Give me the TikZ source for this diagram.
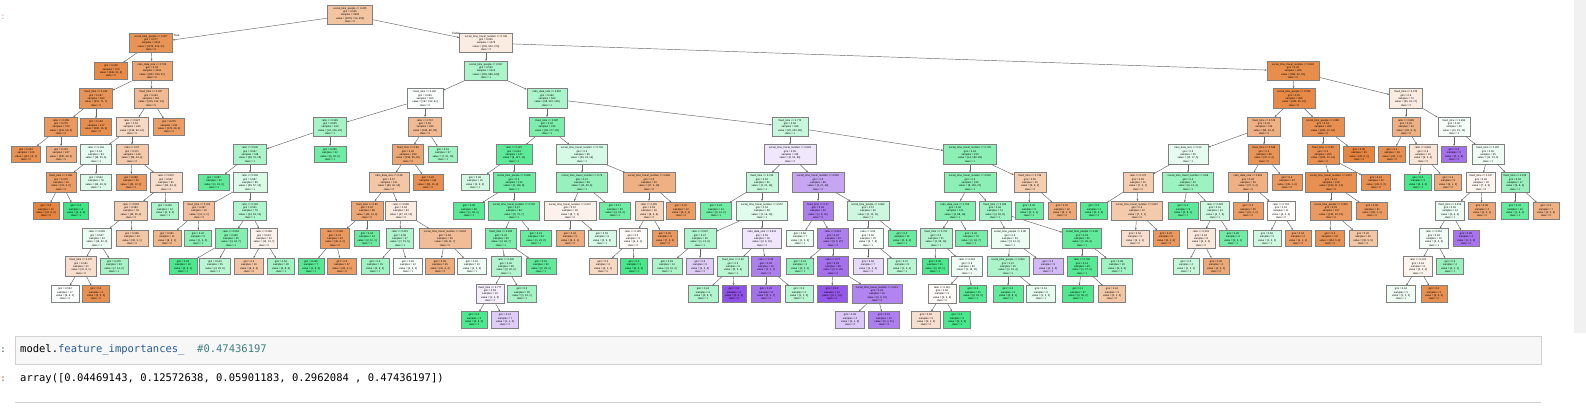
\documentclass[tikz,border=0pt]{standalone}
\usepackage{fontspec}
\usetikzlibrary{arrows.meta}
\newfontfamily\nodefont{Liberation Sans}
\newfontfamily\codefont{DejaVu Sans Mono}
\definecolor{O}{RGB}{229,129,57}
\definecolor{G}{RGB}{57,229,129}
\definecolor{P}{RGB}{129,57,229}
\definecolor{inprompt}{RGB}{48,63,159}
\definecolor{outprompt}{RGB}{216,67,21}
\definecolor{codeprop}{RGB}{40,90,150}
\definecolor{codecomment}{RGB}{64,128,128}
\newcommand\Iq[5]{#1\\gini = #2\\samples = #3\\value = [#4]\\class = #5}
\newcommand\Lq[4]{gini = #1\\samples = #2\\value = [#3]\\class = #4}
\newcommand\Ni[7]{\node[inn, minimum width=#5, fill=#6] (#1) at (#3,#4) {#7}; \draw[edg] (#2) -- (#1);}
\newcommand\Nl[7]{\node[lf, minimum width=#5, fill=#6] (#1) at (#3,#4) {#7}; \draw[edg] (#2) -- (#1);}
\tikzset{
  tbox/.style={rectangle, draw=black!50, line width=0.55pt, inner xsep=0.4pt, inner ysep=0pt, align=center, font=\nodefont\fontsize{2.6}{3.3}\selectfont},
  inn/.style={tbox, minimum height=19.5},
  lf/.style={tbox, minimum height=16.5},
  edg/.style={draw=black!60, line width=0.45pt, -{Stealth[length=2.2pt,width=1.8pt]}},
  tf/.style={font=\nodefont\fontsize{3}{3.5}\selectfont, inner sep=0pt}
}
\begin{document}
\begin{tikzpicture}[x=1pt,y=-1pt]
\useasboundingbox (0,0) rectangle (1586,407);
\fill[white] (0,0) rectangle (1586,407);
\fill[black!5.5] (1574,0) rectangle (1586,333);
\node[font=\nodefont\fontsize{8}{8}\selectfont, text=outprompt, inner sep=0pt] (op1) at (3,17) {:};
% root
\node[inn, minimum width=45, fill=O!47] (r) at (350,15) {\Iq{social\_time\_people <= 0.225}{0.535}{2992}{1878, 714, 400}{0}};
% left subtree
\Ni{a}{r}{151}{43}{43}{O!85}{\Iq{social\_time\_people <= 0.027}{0.277}{1514}{1273, 214, 27}{0}}
\node[tf] (tlab) at (176.5,35.5) {True};
\Nl{a1}{a}{111}{71}{33}{O!92}{\Lq{0.108}{473}{446, 21, 6}{0}}
\Ni{a2}{a}{152}{71}{40}{O!72}{\Iq{ratio\_data\_size <= 0.709}{0.34}{1041}{827, 193, 21}{0}}
\Ni{a21}{a2}{96}{98.5}{33}{O!85}{\Iq{fixed\_time <= 0.445}{0.237}{590}{512, 71, 7}{0}}
\Ni{a211}{a21}{61}{127}{33}{O!82}{\Iq{ratio <= 0.358}{0.275}{373}{312, 56, 5}{0}}
\Nl{a2111}{a211}{26}{154.5}{29}{O!87}{\Lq{0.204}{126}{112, 13, 1}{0}}
\Nl{a2112}{a211}{61}{154.5}{30}{O!65}{\Lq{0.314}{247}{200, 43, 4}{0}}
\Nl{a212}{a21}{96}{127}{31}{O!90}{\Lq{0.143}{217}{200, 15, 2}{0}}
\Ni{a22}{a2}{151}{98.5}{34}{O!55}{\Iq{fixed\_time <= 0.927}{0.444}{451}{315, 122, 14}{0}}
\Ni{a221}{a22}{132}{127}{32}{O!30}{\Iq{ratio <= 0.527}{0.53}{240}{136, 94, 10}{0}}
\Ni{a2211}{a221}{96}{154.5}{31}{G!12}{\Iq{ratio <= 0.146}{0.54}{94}{38, 50, 6}{1}}
\Ni{a22111}{a2211}{61}{182.5}{30}{O!78}{\Iq{fixed\_time <= 0.981}{0.375}{16}{12, 4, 0}{0}}
\Nl{a221111}{a22111}{46}{211}{26}{O!97}{\Lq{0.0}{12}{12, 0, 0}{0}}
\Nl{a221112}{a22111}{76}{211}{25}{G!98}{\Lq{0.0}{4}{0, 4, 0}{1}}
\Nl{a22112}{a2211}{96}{182.5}{31}{G!17}{\Lq{0.554}{78}{26, 46, 6}{1}}
\Ni{a2212}{a221}{132}{154.5}{32}{O!42}{\Iq{ratio <= 0.67}{0.471}{146}{98, 44, 4}{0}}
\Nl{a22121}{a2212}{131}{182.5}{30}{O!80}{\Lq{0.298}{55}{45, 10, 0}{0}}
\Ni{a22122}{a2212}{166}{182.5}{32}{O!26}{\Iq{ratio <= 0.907}{0.507}{91}{53, 34, 4}{0}}
\Ni{a221221}{a22122}{131}{211}{33}{O!38}{\Iq{ratio <= 0.863}{0.483}{78}{49, 25, 4}{0}}
\Ni{a2212211}{a221221}{97}{238.5}{29}{G!10}{\Iq{ratio <= 0.695}{0.547}{44}{19, 22, 3}{1}}
\Ni{a22122111}{a2212211}{81}{266.5}{31}{O!25}{\Iq{fixed\_time <= 0.977}{0.531}{21}{12, 8, 1}{0}}
\Nl{a221221111}{a22122111}{65}{294}{28}{G!2}{\Lq{0.522}{17}{8, 8, 1}{0}}
\Nl{a221221112}{a22122111}{96}{294}{27}{O!88}{\Lq{0.0}{4}{4, 0, 0}{0}}
\Nl{a22122112}{a2212211}{114}{266.5}{28}{G!45}{\Lq{0.476}{23}{7, 14, 2}{1}}
\Nl{a2212212}{a221221}{132}{238.5}{32}{O!45}{\Lq{0.208}{34}{30, 3, 1}{0}}
\Nl{a221222}{a22122}{165}{211}{27}{G!42}{\Lq{0.426}{13}{4, 9, 0}{1}}
\Nl{a222}{a22}{169}{127}{31}{O!78}{\Lq{0.275}{211}{179, 28, 4}{0}}
% right subtree
\Ni{b}{r}{486}{43}{53}{O!15}{\Iq{social\_time\_travel\_number <= 0.738}{0.625}{1478}{605, 500, 373}{0}}
\node[tf] (flab) at (456,33) {False};
\Ni{b1}{b}{486}{71}{43}{G!42}{\Iq{social\_time\_people <= 0.917}{0.553}{1013}{255, 589, 169}{1}}
\Ni{b11}{b1}{425}{98.5}{36}{G!2}{\Iq{fixed\_time <= 0.487}{0.636}{450}{197, 192, 61}{0}}
\Ni{b111}{b11}{330}{127}{33}{G!45}{\Iq{ratio <= 0.381}{0.525}{160}{32, 106, 22}{1}}
\Ni{b1111}{b111}{250}{154.5}{33}{G!42}{\Iq{ratio <= 0.035}{0.547}{118}{26, 76, 16}{1}}
\Nl{b11111}{b1111}{214}{182.5}{31}{G!80}{\Lq{0.287}{23}{1, 19, 3}{1}}
\Ni{b11112}{b1111}{250}{182.5}{34}{G!18}{\Iq{ratio <= 0.305}{0.587}{95}{25, 57, 13}{1}}
\Ni{b111121}{b11112}{199}{211}{31}{O!50}{\Iq{fixed\_time <= 0.403}{0.497}{16}{11, 4, 1}{0}}
\Nl{b1111211}{b111121}{167}{238.5}{28}{O!58}{\Lq{0.391}{11}{8, 2, 1}{0}}
\Nl{b1111212}{b111121}{198}{238.5}{27}{G!58}{\Lq{0.32}{5}{1, 4, 0}{1}}
\Ni{b111122}{b11112}{250}{211}{33}{G!40}{\Iq{ratio <= 0.193}{0.551}{79}{14, 53, 12}{1}}
\Ni{b1111221}{b111122}{231}{238.5}{32}{G!62}{\Iq{ratio <= 0.063}{0.455}{45}{4, 34, 7}{1}}
\Nl{b11112211}{b1111221}{183}{266.5}{28}{G!90}{\Lq{0.18}{10}{0, 9, 1}{1}}
\Nl{b11112212}{b1111221}{215}{266.5}{31}{G!35}{\Lq{0.516}{35}{4, 25, 6}{1}}
\Ni{b1111222}{b111122}{264}{238.5}{27}{O!10}{\Iq{ratio <= 0.286}{0.614}{34}{14, 13, 7}{0}}
\Nl{b11112221}{b1111222}{249}{266.5}{29}{O!47}{\Lq{0.5}{16}{9, 5, 2}{0}}
\Nl{b11112222}{b1111222}{281}{266.5}{27}{G!48}{\Lq{0.54}{18}{5, 8, 5}{1}}
\Nl{b1112}{b111}{330}{154.5}{32}{G!72}{\Lq{0.355}{42}{6, 30, 6}{1}}
\Ni{b112}{b11}{425}{127}{33}{O!55}{\Iq{ratio <= 0.767}{0.55}{290}{165, 86, 39}{0}}
\Ni{b1121}{b112}{408}{154.5}{31}{O!70}{\Iq{fixed\_time <= 0.99}{0.45}{233}{158, 55, 20}{0}}
\Ni{b11211}{b1121}{389}{182.5}{40}{O!45}{\Iq{ratio\_data\_size <= 0.38}{0.57}{121}{65, 40, 16}{0}}
\Ni{b112111}{b11211}{367}{211}{32}{O!70}{\Iq{fixed\_time <= 0.85}{0.42}{58}{40, 14, 4}{0}}
\Ni{b1121111}{b112111}{335}{238.5}{29}{O!82}{\Iq{ratio <= 0.283}{0.31}{44}{36, 6, 2}{0}}
\Nl{b11211111}{b1121111}{311}{266.5}{26}{G!85}{\Lq{0.245}{7}{1, 6, 0}{1}}
\Nl{b11211112}{b1121111}{342}{266.5}{29}{O!78}{\Lq{0.2}{37}{33, 3, 1}{0}}
\Nl{b1121112}{b112111}{367}{238.5}{25}{G!75}{\Lq{0.34}{14}{2, 11, 1}{1}}
\Ni{b112112}{b11211}{401}{211}{31}{O!15}{\Iq{ratio <= 0.585}{0.64}{63}{27, 24, 12}{0}}
\Ni{b1121121}{b112112}{400}{238.5}{27}{G!40}{\Iq{ratio <= 0.415}{0.58}{27}{7, 15, 5}{1}}
\Nl{b11211211}{b1121121}{375}{266.5}{28}{G!48}{\Lq{0.5}{15}{3, 9, 3}{1}}
\Nl{b11211212}{b1121121}{408}{266.5}{29}{G!3}{\Lq{0.65}{12}{4, 6, 2}{1}}
\Ni{b1121122}{b112112}{445}{238.5}{52}{O!52}{\Iq{social\_time\_travel\_number <= 0.804}{0.58}{36}{18, 11, 7}{0}}
\Nl{b11211221}{b1121122}{440}{266.5}{29}{O!65}{\Lq{0.48}{26}{16, 6, 4}{0}}
\Nl{b11211222}{b1121122}{472}{266.5}{29}{G!8}{\Lq{0.62}{10}{2, 5, 3}{1}}
\Nl{b11212}{b1121}{428}{182.5}{30}{O!88}{\Lq{0.26}{112}{93, 15, 4}{0}}
\Nl{b1122}{b112}{443}{154.5}{29}{G!48}{\Lq{0.51}{57}{7, 31, 19}{1}}
\Ni{b12}{b1}{547}{98.5}{40}{G!42}{\Iq{ratio\_data\_size <= 0.387}{0.462}{563}{58, 397, 108}{1}}
\Ni{b121}{b12}{547}{127}{35}{G!65}{\Iq{fixed\_time <= 0.687}{0.42}{235}{38, 177, 20}{1}}
\Ni{b1211}{b121}{514}{154.5}{36}{G!82}{\Iq{ratio <= 0.187}{0.244}{147}{9, 127, 11}{1}}
\Nl{b12111}{b1211}{475}{182.5}{28}{G!22}{\Lq{0.48}{15}{3, 9, 3}{1}}
\Ni{b12112}{b1211}{514}{182.5}{42}{G!72}{\Iq{social\_time\_people <= 0.948}{0.2}{132}{6, 118, 8}{1}}
\Nl{b121121}{b12112}{469}{211}{31}{G!85}{\Lq{0.08}{48}{1, 46, 1}{1}}
\Ni{b121122}{b12112}{514}{211}{51}{G!70}{\Iq{social\_time\_travel\_number <= 0.792}{0.27}{84}{5, 72, 7}{1}}
\Ni{b1211221}{b121122}{501}{238.5}{31}{G!65}{\Iq{fixed\_time <= 0.825}{0.32}{60}{4, 49, 7}{1}}
\Ni{b12112211}{b1211221}{506}{266.5}{30}{G!38}{\Iq{ratio <= 0.435}{0.45}{28}{2, 20, 6}{1}}
\Ni{b121122111}{b12112211}{490}{294}{28}{P!8}{\Iq{fixed\_time <= 0.777}{0.58}{10}{1, 4, 5}{2}}
\Nl{b1211221111}{b121122111}{474}{320}{26}{G!90}{\Lq{0.0}{3}{0, 3, 0}{1}}
\Nl{b1211221112}{b121122111}{505}{320}{27}{P!25}{\Lq{0.41}{7}{1, 1, 5}{2}}
\Nl{b121122112}{b12112211}{522}{294}{29}{G!45}{\Lq{0.2}{18}{1, 16, 1}{1}}
\Nl{b12112212}{b1211221}{541}{266.5}{30}{G!80}{\Lq{0.15}{32}{2, 29, 1}{1}}
\Nl{b1211222}{b121122}{536}{238.5}{31}{G!77}{\Lq{0.16}{24}{1, 23, 0}{1}}
\Ni{b1212}{b121}{582}{154.5}{51}{G!20}{\Iq{social\_time\_travel\_number <= 0.795}{0.6}{88}{29, 43, 16}{1}}
\Ni{b12121}{b1212}{582}{182.5}{51}{G!52}{\Iq{social\_time\_travel\_number <= 0.78}{0.47}{58}{12, 40, 6}{1}}
\Ni{b121211}{b12121}{570}{211}{52}{O!10}{\Iq{social\_time\_travel\_number <= 0.637}{0.57}{18}{8, 7, 3}{0}}
\Nl{b1212111}{b121211}{570}{238.5}{28}{O!65}{\Lq{0.44}{9}{6, 2, 1}{0}}
\Nl{b1212112}{b121211}{602}{238.5}{28}{G!20}{\Lq{0.59}{9}{2, 5, 2}{1}}
\Nl{b121212}{b12121}{615}{211}{31}{G!72}{\Lq{0.17}{40}{4, 33, 3}{1}}
\Ni{b12122}{b1212}{649}{182.5}{52}{O!62}{\Iq{social\_time\_travel\_number <= 0.868}{0.5}{30}{17, 3, 10}{0}}
\Ni{b121221}{b12122}{649}{211}{28}{O!32}{\Iq{ratio <= 0.455}{0.59}{18}{9, 3, 6}{0}}
\Ni{b1212211}{b121221}{633}{238.5}{28}{O!4}{\Iq{ratio <= 0.185}{0.5}{9}{4, 4, 1}{0}}
\Nl{b12122111}{b1212211}{603}{266.5}{28}{O!30}{\Lq{0.5}{6}{4, 1, 1}{0}}
\Nl{b12122112}{b1212211}{634}{266.5}{27}{G!92}{\Lq{0.0}{3}{0, 3, 0}{1}}
\Nl{b1212212}{b121221}{665}{238.5}{25}{O!80}{\Lq{0.35}{9}{7, 0, 2}{0}}
\Nl{b121222}{b12122}{681}{211}{29}{O!78}{\Lq{0.32}{12}{8, 0, 4}{0}}
\Ni{b122}{b12}{790}{127}{36}{G!28}{\Iq{fixed\_time <= 0.773}{0.56}{328}{20, 220, 88}{1}}
\Ni{b1221}{b122}{790}{154.5}{52}{P!12}{\Iq{social\_time\_travel\_number <= 0.649}{0.55}{118}{6, 52, 60}{2}}
\Ni{b12211}{b1221}{762}{182.5}{32}{G!28}{\Iq{fixed\_time <= 0.315}{0.52}{52}{3, 31, 18}{1}}
\Nl{b122111}{b12211}{716}{211}{31}{G!72}{\Lq{0.24}{14}{0, 12, 2}{1}}
\Ni{b122112}{b12211}{762}{211}{51}{G!15}{\Iq{social\_time\_travel\_number <= 0.557}{0.53}{38}{3, 19, 16}{1}}
\Ni{b1221121}{b122112}{700}{238.5}{32}{G!40}{\Iq{ratio <= 0.597}{0.47}{20}{1, 13, 6}{1}}
\Nl{b12211211}{b1221121}{667}{266.5}{30}{G!42}{\Lq{0.43}{14}{0, 10, 4}{1}}
\Nl{b12211212}{b1221121}{700}{266.5}{27}{P!25}{\Lq{0.5}{6}{1, 2, 3}{2}}
\Ni{b1221122}{b122112}{762}{238.5}{39}{P!12}{\Iq{ratio\_data\_size <= 0.531}{0.55}{18}{2, 6, 10}{2}}
\Ni{b12211221}{b1221122}{733}{266.5}{31}{G!35}{\Iq{fixed\_time <= 0.58}{0.5}{8}{0, 5, 3}{1}}
\Nl{b122112211}{b12211221}{703}{294}{30}{G!40}{\Lq{0.44}{6}{0, 4, 2}{1}}
\Nl{b122112212}{b12211221}{734}{294}{24}{P!88}{\Lq{0.0}{2}{0, 0, 2}{2}}
\Ni{b12211222}{b1221122}{766}{266.5}{29}{P!65}{\Iq{ratio <= 0.39}{0.39}{10}{2, 1, 7}{2}}
\Nl{b122112221}{b12211222}{766}{294}{29}{P!72}{\Lq{0.22}{8}{0, 1, 7}{2}}
\Nl{b122112222}{b12211222}{799}{294}{28}{G!35}{\Lq{0.5}{2}{1, 1, 0}{1}}
\Ni{b12212}{b1221}{818}{182.5}{52}{P!45}{\Iq{social\_time\_travel\_number <= 0.662}{0.5}{66}{3, 21, 42}{2}}
\Ni{b122121}{b12212}{818}{211}{30}{P!65}{\Iq{fixed\_time <= 0.27}{0.36}{40}{1, 8, 31}{2}}
\Nl{b1221211}{b122121}{800}{238.5}{27}{G!10}{\Lq{0.56}{7}{1, 3, 3}{1}}
\Ni{b1221212}{b122121}{833}{238.5}{31}{P!65}{\Iq{ratio <= 0.412}{0.32}{33}{0, 6, 27}{2}}
\Nl{b12212121}{b1221212}{800}{266.5}{27}{G!55}{\Lq{0.44}{3}{0, 2, 1}{1}}
\Ni{b12212122}{b1221212}{833}{266.5}{31}{P!72}{\Iq{ratio <= 0.77}{0.25}{30}{0, 4, 26}{2}}
\Nl{b122121221}{b12212122}{832}{294}{30}{P!85}{\Lq{0.13}{14}{0, 1, 13}{2}}
\Ni{b122121222}{b12212122}{877}{294}{50}{P!62}{\Iq{social\_time\_travel\_number <= 0.613}{0.33}{16}{0, 3, 13}{2}}
\Nl{b1221212221}{b122121222}{850}{320}{29}{P!28}{\Lq{0.38}{4}{0, 1, 3}{2}}
\Nl{b1221212222}{b122121222}{884}{320}{31}{P!65}{\Lq{0.15}{12}{0, 1, 11}{2}}
\Ni{b122122}{b12212}{868}{211}{42}{G!25}{\Iq{social\_time\_people <= 0.982}{0.57}{26}{2, 13, 11}{1}}
\Ni{b1221221}{b122122}{868}{238.5}{30}{G!5}{\Iq{ratio <= 0.63}{0.55}{15}{2, 7, 6}{1}}
\Nl{b12212211}{b1221221}{868}{266.5}{30}{P!18}{\Lq{0.56}{7}{1, 2, 4}{2}}
\Nl{b12212212}{b1221221}{902}{266.5}{29}{G!35}{\Lq{0.47}{8}{1, 5, 2}{1}}
\Nl{b1221222}{b122122}{902}{238.5}{28}{G!75}{\Lq{0.3}{11}{0, 9, 2}{1}}
\Ni{b1222}{b122}{970}{154.5}{53}{G!58}{\Iq{social\_time\_travel\_number <= 0.705}{0.43}{210}{14, 168, 28}{1}}
\Ni{b12221}{b1222}{970}{182.5}{52}{G!58}{\Iq{social\_time\_travel\_number <= 0.692}{0.4}{195}{8, 160, 27}{1}}
\Ni{b122211}{b12221}{955}{211}{40}{G!62}{\Iq{ratio\_data\_size <= 0.765}{0.36}{121}{4, 98, 19}{1}}
\Ni{b1222111}{b122211}{936}{238.5}{32}{G!38}{\Iq{fixed\_time <= 0.751}{0.5}{51}{3, 36, 12}{1}}
\Nl{b12221111}{b1222111}{935}{266.5}{26}{G!90}{\Lq{0.09}{21}{0, 20, 1}{1}}
\Ni{b12221112}{b1222111}{967}{266.5}{31}{G!8}{\Iq{ratio <= 0.363}{0.6}{30}{3, 16, 11}{1}}
\Ni{b122211121}{b12221112}{942}{294}{28}{O!3}{\Iq{ratio <= 0.114}{0.66}{9}{3, 3, 3}{0}}
\Nl{b1222111211}{b122211121}{926}{320}{29}{O!25}{\Lq{0.62}{5}{2, 1, 2}{0}}
\Nl{b1222111212}{b122211121}{957}{320}{27}{G!92}{\Lq{0.0}{2}{0, 2, 0}{1}}
\Nl{b122211122}{b12221112}{973}{294}{27}{G!85}{\Lq{0.3}{21}{0, 18, 3}{1}}
\Nl{b1222112}{b122211}{971}{238.5}{32}{G!68}{\Lq{0.26}{70}{1, 62, 7}{1}}
\Ni{b122212}{b12221}{995}{211}{32}{G!48}{\Iq{fixed\_time <= 0.905}{0.46}{74}{4, 62, 8}{1}}
\Ni{b1222121}{b122212}{1010}{238.5}{38}{G!9}{\Iq{social\_time\_people <= 0.98}{0.6}{24}{3, 12, 9}{1}}
\Ni{b12221211}{b1222121}{1008}{266.5}{42}{G!42}{\Iq{social\_time\_people <= 0.963}{0.47}{15}{1, 10, 4}{1}}
\Nl{b122212111}{b12221211}{1008}{294}{30}{G!80}{\Lq{0.2}{9}{0, 8, 1}{1}}
\Nl{b122212112}{b12221211}{1041}{294}{29}{G!12}{\Lq{0.61}{6}{1, 2, 3}{1}}
\Nl{b12221212}{b1222121}{1048}{266.5}{30}{P!35}{\Lq{0.5}{9}{2, 2, 5}{2}}
\Ni{b1222122}{b122212}{1082}{238.5}{39}{G!80}{\Iq{social\_time\_people <= 0.99}{0.18}{50}{1, 45, 4}{1}}
\Ni{b12221221}{b1222122}{1082}{266.5}{30}{G!85}{\Iq{ratio <= 0.706}{0.14}{40}{1, 37, 2}{1}}
\Nl{b122212211}{b12221221}{1078}{294}{31}{G!88}{\Lq{0.1}{37}{0, 35, 2}{1}}
\Nl{b122212212}{b12221221}{1112}{294}{27}{O!45}{\Lq{0.44}{3}{2, 1, 0}{0}}
\Nl{b12221222}{b1222122}{1117}{266.5}{31}{G!48}{\Lq{0.48}{10}{0, 6, 4}{1}}
\Ni{b12222}{b1222}{1030}{182.5}{32}{O!40}{\Iq{fixed\_time <= 0.729}{0.55}{15}{8, 5, 2}{0}}
\Nl{b122221}{b12222}{1029}{211}{28}{G!72}{\Lq{0.32}{5}{0, 4, 1}{1}}
\Nl{b122222}{b12222}{1062}{211}{28}{O!68}{\Lq{0.32}{10}{8, 1, 1}{0}}
% far right subtree
\Ni{b2}{b}{1293}{71}{52}{O!90}{\Iq{social\_time\_travel\_number <= 0.843}{0.29}{465}{390, 42, 33}{0}}
\Ni{b21}{b2}{1294}{98.5}{42}{O!93}{\Iq{social\_time\_people <= 0.976}{0.25}{395}{345, 35, 15}{0}}
\Ni{b211}{b21}{1264}{127}{33}{O!62}{\Iq{fixed\_time <= 0.576}{0.45}{115}{83, 23, 9}{0}}
\Ni{b2111}{b211}{1188}{154.5}{40}{G!12}{\Iq{ratio\_data\_size <= 0.23}{0.6}{35}{13, 17, 5}{1}}
\Ni{b21111}{b2111}{1138}{182.5}{30}{O!40}{\Iq{ratio <= 0.179}{0.55}{12}{7, 4, 1}{0}}
\Nl{b211111}{b21111}{1094}{211}{27}{G!85}{\Lq{0.0}{2}{0, 2, 0}{1}}
\Ni{b211112}{b21111}{1137}{211}{51}{O!42}{\Iq{social\_time\_travel\_number <= 0.887}{0.5}{10}{7, 2, 1}{0}}
\Nl{b2111121}{b211112}{1135}{238.5}{28}{O!25}{\Lq{0.56}{5}{3, 1, 1}{0}}
\Nl{b2111122}{b211112}{1166}{238.5}{26}{O!82}{\Lq{0.32}{5}{4, 1, 0}{0}}
\Ni{b21112}{b2111}{1188}{182.5}{51}{G!50}{\Iq{social\_time\_travel\_number <= 0.89}{0.5}{23}{6, 13, 4}{1}}
\Nl{b211121}{b21112}{1183}{211}{30}{G!82}{\Lq{0.2}{9}{0, 8, 1}{1}}
\Ni{b211122}{b21112}{1215}{211}{29}{G!24}{\Iq{ratio <= 0.428}{0.61}{14}{4, 7, 3}{1}}
\Ni{b2111221}{b211122}{1201}{238.5}{28}{O!18}{\Iq{ratio <= 0.333}{0.63}{8}{4, 2, 2}{0}}
\Nl{b21112211}{b2111221}{1186}{266.5}{26}{G!28}{\Lq{0.5}{4}{1, 2, 1}{1}}
\Nl{b21112212}{b2111221}{1216}{266.5}{26}{O!68}{\Lq{0.38}{4}{3, 0, 1}{0}}
\Nl{b2111222}{b211122}{1233}{238.5}{28}{G!72}{\Lq{0.28}{6}{0, 5, 1}{1}}
\Ni{b2112}{b211}{1264}{154.5}{31}{O!85}{\Iq{fixed\_time <= 0.548}{0.3}{80}{70, 6, 4}{0}}
\Ni{b21121}{b2112}{1248}{182.5}{39}{O!62}{\Iq{ratio\_data\_size <= 0.992}{0.46}{36}{27, 5, 4}{0}}
\Nl{b211211}{b21121}{1248}{211}{30}{O!78}{\Lq{0.3}{25}{21, 2, 2}{0}}
\Ni{b211212}{b21121}{1281}{211}{28}{O!1}{\Iq{ratio <= 0.753}{0.63}{11}{4, 4, 3}{0}}
\Nl{b2112121}{b211212}{1267}{238.5}{28}{G!24}{\Lq{0.56}{5}{1, 3, 1}{1}}
\Nl{b2112122}{b211212}{1298}{238.5}{26}{O!78}{\Lq{0.44}{6}{4, 1, 1}{0}}
\Nl{b21122}{b2112}{1287}{182.5}{30}{O!80}{\Lq{0.2}{44}{39, 1, 4}{0}}
\Ni{b212}{b21}{1323}{127}{42}{O!88}{\Iq{social\_time\_people <= 0.981}{0.19}{280}{250, 12, 18}{0}}
\Ni{b2121}{b212}{1323}{154.5}{32}{O!88}{\Iq{fixed\_time <= 0.99}{0.2}{250}{222, 12, 16}{0}}
\Ni{b21211}{b2121}{1331}{182.5}{51}{O!88}{\Iq{social\_time\_travel\_number <= 0.947}{0.21}{218}{193, 11, 14}{0}}
\Ni{b212111}{b21211}{1331}{211}{41}{O!80}{\Iq{social\_time\_people <= 0.983}{0.26}{157}{134, 10, 13}{0}}
\Nl{b2121111}{b212111}{1330}{238.5}{29}{O!85}{\Lq{0.2}{117}{104, 5, 8}{0}}
\Nl{b2121112}{b212111}{1363}{238.5}{28}{O!45}{\Lq{0.45}{40}{30, 5, 5}{0}}
\Nl{b212112}{b21211}{1372}{211}{31}{O!80}{\Lq{0.06}{61}{59, 1, 1}{0}}
\Nl{b21212}{b2121}{1376}{182.5}{29}{O!87}{\Lq{0.12}{32}{29, 0, 3}{0}}
\Nl{b2122}{b212}{1359}{154.5}{31}{O!96}{\Lq{0.06}{30}{29, 0, 1}{0}}
\Ni{b22}{b2}{1406}{98.5}{33}{O!15}{\Iq{fixed\_time <= 0.475}{0.6}{70}{35, 18, 17}{0}}
\Ni{b221}{b22}{1406}{127}{28}{O!62}{\Iq{ratio <= 0.589}{0.45}{30}{22, 5, 3}{0}}
\Nl{b2211}{b221}{1392}{154.5}{27}{O!88}{\Lq{0.2}{18}{16, 1, 1}{0}}
\Ni{b2212}{b221}{1423}{154.5}{28}{O!20}{\Iq{ratio <= 0.865}{0.6}{12}{6, 4, 2}{0}}
\Nl{b22121}{b2212}{1418}{182.5}{27}{G!92}{\Lq{0.0}{3}{0, 3, 0}{1}}
\Nl{b22122}{b2212}{1448}{182.5}{27}{O!65}{\Lq{0.4}{9}{6, 1, 2}{0}}
\Ni{b222}{b22}{1454}{127}{32}{G!5}{\Iq{fixed\_time <= 0.853}{0.66}{40}{12, 15, 13}{1}}
\Nl{b2221}{b222}{1454}{154.5}{25}{P!72}{\Lq{0.2}{5}{0, 1, 4}{2}}
\Ni{b2222}{b222}{1488}{154.5}{32}{G!8}{\Iq{fixed\_time <= 0.957}{0.65}{35}{12, 14, 9}{1}}
\Ni{b22221}{b2222}{1481}{182.5}{29}{O!8}{\Iq{fixed\_time <= 0.917}{0.66}{18}{7, 6, 5}{0}}
\Ni{b222211}{b22221}{1450}{211}{29}{G!10}{\Iq{fixed\_time <= 0.873}{0.66}{14}{4, 6, 4}{1}}
\Ni{b2222111}{b222211}{1434}{238.5}{29}{G!7}{\Iq{ratio <= 0.352}{0.66}{10}{3, 4, 3}{1}}
\Ni{b22221111}{b2222111}{1418}{266.5}{29}{O!9}{\Iq{ratio <= 0.133}{0.64}{8}{3, 3, 2}{0}}
\Nl{b222211111}{b22221111}{1401}{294}{29}{G!8}{\Lq{0.64}{5}{1, 2, 2}{1}}
\Nl{b222211112}{b22221111}{1434}{294}{26}{O!88}{\Lq{0.0}{3}{3, 0, 0}{0}}
\Nl{b22221112}{b2222111}{1450}{266.5}{27}{G!52}{\Lq{0.5}{2}{0, 1, 1}{1}}
\Nl{b2222112}{b222211}{1466}{238.5}{26}{P!70}{\Lq{0.38}{4}{1, 0, 3}{2}}
\Nl{b222212}{b22221}{1482}{211}{27}{O!70}{\Lq{0.38}{4}{3, 0, 1}{0}}
\Ni{b22222}{b2222}{1515}{182.5}{28}{G!52}{\Iq{fixed\_time <= 0.976}{0.52}{17}{5, 8, 4}{1}}
\Nl{b222221}{b22222}{1515}{211}{27}{G!78}{\Lq{0.32}{10}{1, 8, 1}{1}}
\Nl{b222222}{b22222}{1546}{211}{26}{O!62}{\Lq{0.5}{7}{4, 0, 3}{0}}
% notebook cells
\node[font=\codefont\fontsize{9}{9}\selectfont, text=inprompt, inner sep=0pt] (ip) at (3,350) {:};
\draw[fill=black!3, draw=black!18, line width=0.7pt] (15,336) rectangle (1541,364);
\node[anchor=west, inner sep=0pt, font=\codefont\fontsize{10.5}{10.5}\selectfont] (code) at (20,350) {model.\textcolor{codeprop}{feature\_importances\_}\ \ \textcolor{codecomment}{\#0.47436197}};
\node[font=\codefont\fontsize{9}{9}\selectfont, text=outprompt, inner sep=0pt] (op2) at (3,379) {:};
\node[anchor=west, inner sep=0pt, font=\codefont\fontsize{10.5}{10.5}\selectfont] (out) at (20,379) {array([0.04469143, 0.12572638, 0.05901183, 0.2962084 , 0.47436197])};
\draw[black!18, line width=0.7pt] (15,402) -- (1541,402);
\end{tikzpicture}
\end{document}
